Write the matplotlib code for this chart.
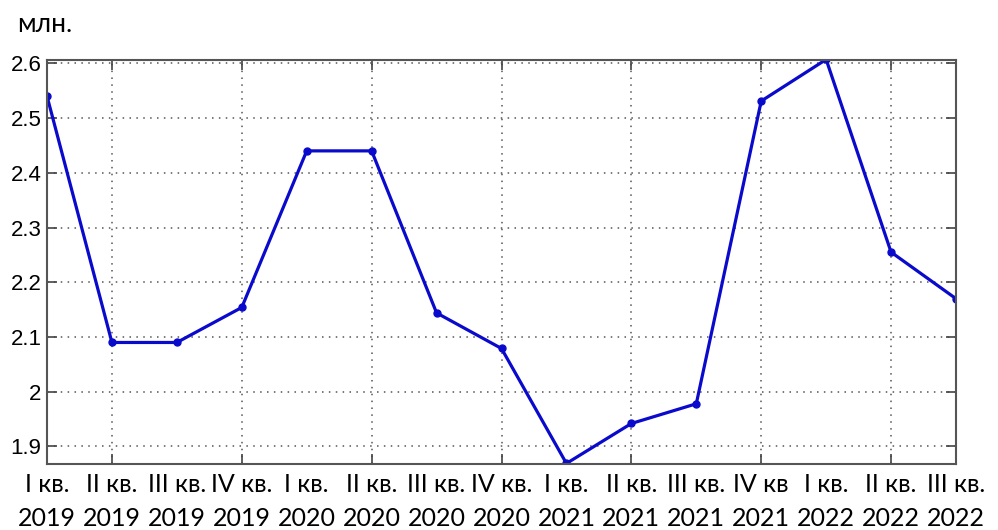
import matplotlib.pyplot as plt

# quarters, values in millions
quarters = ["I кв.", "II кв.", "III кв.", "IV кв.", "I кв.", "II кв.", "III кв.", "IV кв.",
            "I кв.", "II кв.", "III кв.", "IV кв", "I кв.", "II кв.", "III кв."]
years = ["2019", "2019", "2019", "2019", "2020", "2020", "2020", "2020",
         "2021", "2021", "2021", "2021", "2022", "2022", "2022"]
values = [2.540, 2.090, 2.090, 2.154, 2.440, 2.440, 2.144, 2.079,
          1.869, 1.942, 1.978, 2.531, 2.607, 2.255, 2.170]

x = list(range(1, len(values) + 1))

fig = plt.figure(figsize=(9.98, 5.3), dpi=100)
ax = fig.add_axes([47 / 998, 1 - 464 / 530, 909 / 998, 404 / 530])

ax.plot(x, values, color="#0a0acc", linewidth=2.3, marker=".", markersize=10)

ax.set_xlim(1, 15)
ax.set_ylim(1.868, 2.606)
ax.set_xticks(range(2, 15, 2))
ax.set_xticklabels([])
ax.set_yticks([1.9, 2.0, 2.1, 2.2, 2.3, 2.4, 2.5, 2.6])
ax.set_yticklabels(["1.9", "2", "2.1", "2.2", "2.3", "2.4", "2.5", "2.6"],
                   fontfamily="Liberation Sans", fontsize=16)
ax.tick_params(direction="in", length=7, width=1.2, color="#444444",
               top=True, right=True, pad=4)
ax.grid(True, linestyle=(0, (1, 3.5)), color="#555555", linewidth=1.1)
for s in ax.spines.values():
    s.set_color("#555555")
    s.set_linewidth(1.5)

# category labels below the axes
for xi, q, yr in zip(x, quarters, years):
    ax.annotate(q, xy=(xi, 0), xycoords=("data", "axes fraction"),
                xytext=(0, -20), textcoords="offset pixels",
                ha="center", va="center", fontfamily="Lato", fontsize=18)
    ax.annotate(yr, xy=(xi, 0), xycoords=("data", "axes fraction"),
                xytext=(0, -54), textcoords="offset pixels",
                ha="center", va="center", fontfamily="Lato", fontsize=18)

fig.text(17 / 998, 1 - 24 / 530, "млн.", fontfamily="Lato", fontsize=19,
         ha="left", va="center")

fig.savefig("out.png", dpi=100)
